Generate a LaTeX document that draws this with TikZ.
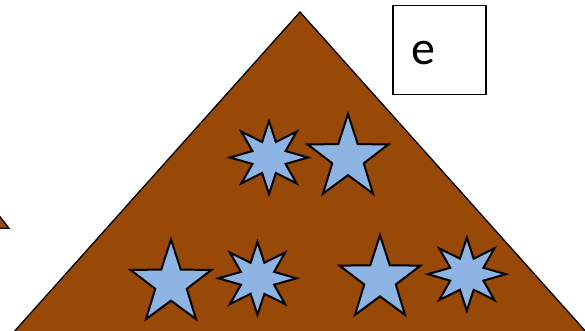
\documentclass[tikz,border=0pt]{standalone}
\usepackage{fontspec}
\setmainfont{Carlito}
\definecolor{brownfill}{HTML}{984807}
\definecolor{starblue}{HTML}{8EB4E3}
\tikzset{
  tristy/.style={fill=brownfill, draw=black, line width=1.3pt, line join=miter},
  starsty/.style={fill=starblue, draw=black, line width=2pt, line join=miter},
  boxsty/.style={draw=black, line width=1.5pt, fill=white}
}
% #1 cx, #2 cy, #3 points, #4 rx, #5 ry, #6 inner ratio, #7 = 2*points-1
\newcommand\mystar[7]{\draw[starsty] plot[samples at={0,...,#7}, variable=\k]
  ({#1+#4*(1-(1-#6)*mod(\k,2))*cos(90+\k*180/#3)},
   {#2-#5*(1-(1-#6)*mod(\k,2))*sin(90+\k*180/#3)}) -- cycle;}
\begin{document}
\begin{tikzpicture}[x=1pt,y=-1pt]
\useasboundingbox (0,0) rectangle (585,331);
\clip (0,0) rectangle (585,331);
% small triangle cut by the left edge
\draw[tristy] (-40,165) -- (9,228.3) -- (-40,228.3) -- cycle;
% big triangle
\draw[tristy] (300,12) -- (647,400) -- (-47,400) -- cycle;
% label box
\node[boxsty, minimum width=93pt, minimum height=89pt, inner sep=0, anchor=north west] (ebox) at (392,5) {};
\node[inner sep=0, font=\fontsize{48}{56}\selectfont] (elabel) at (423,53.5) {e};
% stars
\mystar{269}{157.5}{8}{39}{36.5}{0.46}{15}
\mystar{348}{158}{5}{42.5}{44}{0.39}{9}
\mystar{171}{283.5}{5}{42.5}{44}{0.39}{9}
\mystar{257.5}{278.3}{8}{39}{36.5}{0.46}{15}
\mystar{380}{279.2}{5}{42.5}{44}{0.39}{9}
\mystar{466.8}{274.2}{8}{39}{36.5}{0.46}{15}
\end{tikzpicture}
\end{document}
